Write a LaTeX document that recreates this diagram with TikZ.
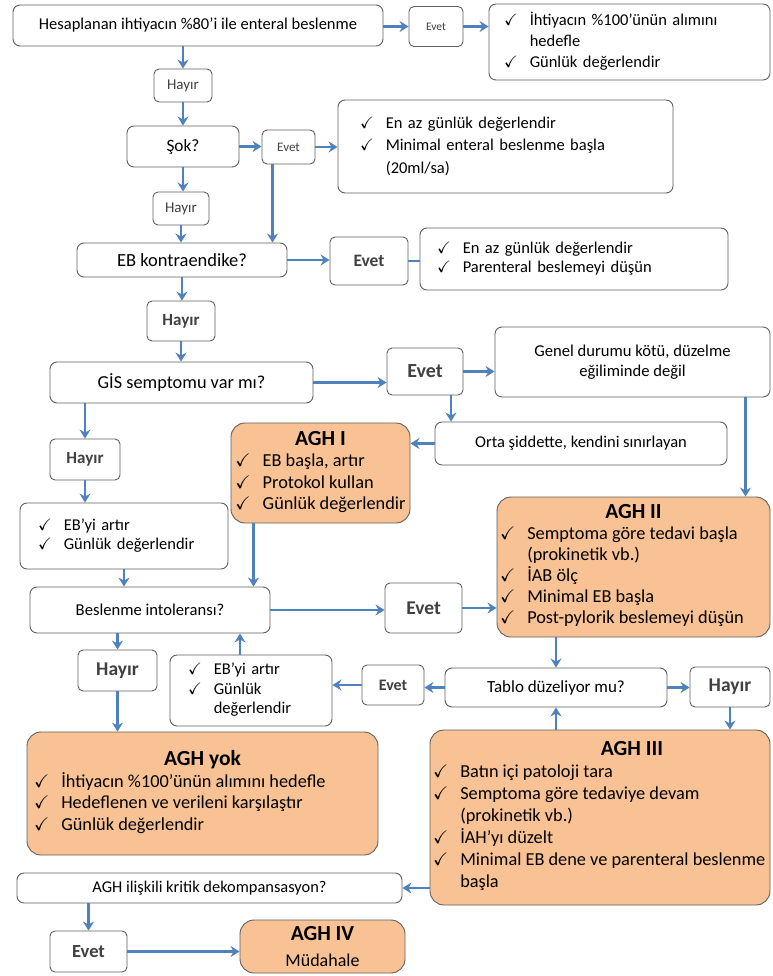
\documentclass[tikz,border=0pt]{standalone}
\usepackage{amssymb}
\usepackage{fontspec}
\setmainfont{Carlito}
\usetikzlibrary{arrows.meta, positioning}

\definecolor{aghorange}{RGB}{249,194,148}
\definecolor{flowblue}{RGB}{79,129,189}
\definecolor{boxgray}{RGB}{95,95,95}

\newcommand{\chk}{$\checkmark$}
\newcommand{\fsz}[2]{\fontsize{#1}{#2}\selectfont}
\newcommand{\chklist}[1]{\begin{tabular}{@{}l@{\hspace{12pt}}l@{}}#1\end{tabular}}
\newcommand{\aghlist}[3]{\begin{tabular}{@{}l@{\hspace{12pt}}l@{}}\multicolumn{2}{@{}c@{}}{\makebox[#1][c]{\fsz{21.5}{26}\bfseries #2}}\\#3\end{tabular}}

\tikzset{
  box/.style={draw=boxgray, line width=0.9pt, rounded corners=7pt, fill=white, inner sep=0pt, align=center},
  agh/.style={box, fill=aghorange, rounded corners=14pt},
  tag/.style={box, rounded corners=5pt, text=black!75},
  wh/.style 2 args={minimum width=#1pt, minimum height=#2pt},
  arr/.style={draw=flowblue, line width=2.2pt, -{Stealth[length=9pt,width=11pt,inset=3pt]}},
  ln/.style={draw=flowblue, line width=2.2pt}
}

\begin{document}
\begin{tikzpicture}[x=1pt, y=-1pt]
\useasboundingbox (0,0) rectangle (772,976);
% upper part
\node[box, wh={370}{41}, font=\fsz{16.5}{20}] (start) at (198,25.5) {Hesaplanan ihtiyacın \%80’i ile enteral beslenme};
\node[tag, wh={54}{40}, font=\fsz{11.5}{14}] (yes1) at (436,26.5) {Evet};
\node[box, wh={281}{76}, text width=251pt, inner xsep=15pt, align=left, font=\fsz{16.5}{21}] (target) at (629.5,42) {\chklist{\chk & İhtiyacın \%100’ünün alımını\\ & hedefle\\ \chk & Günlük değerlendir}};
\node[tag, wh={58}{33}, font=\fsz{15}{18}] (no1) at (183,85.5) {Hayır};
\node[box, wh={112}{41}, font=\fsz{17.3}{20}] (shock) at (183,146.5) {Şok?};
\node[tag, wh={53}{34}, font=\fsz{13}{16}] (yes2) at (288.5,147) {Evet};
\node[box, wh={335}{93}, text width=291pt, inner xsep=22pt, align=left, font=\fsz{16.5}{22.5}] (minimal) at (505.5,146.5) {\chklist{\chk & En az günlük değerlendir\\ \chk & Minimal enteral beslenme başla\\ & (20ml/sa)}};
\node[tag, wh={56}{33}, font=\fsz{15}{18}] (no2) at (181,208.5) {Hayır};
\node[box, wh={210}{34}, font=\fsz{18.5}{22}] (contra) at (182,260) {EB kontraendike?};
\node[tag, wh={78}{48}, font=\fsz{17.5}{20}\bfseries] (yes3) at (369,261) {Evet};
\node[box, wh={308}{62}, text width=274pt, inner xsep=17pt, align=left, font=\fsz{16.5}{19}] (parent) at (574,259) {\chklist{\chk & En az günlük değerlendir\\ \chk & Parenteral beslemeyi düşün}};
\node[tag, wh={68}{40}, font=\fsz{17}{20}\bfseries] (no3) at (181,321) {Hayır};
\node[box, wh={263}{41}, font=\fsz{18.3}{22}] (gis) at (181.5,382.5) {GİS semptomu var mı?};
\node[tag, wh={76}{47}, font=\fsz{20}{24}\bfseries] (yes4) at (425,371.5) {Evet};
\node[box, wh={275}{70}, font=\fsz{16.6}{20}] (severe) at (632.5,362) {Genel durumu kötü, düzelme\\eğiliminde değil};
\node[box, wh={292}{43}, font=\fsz{16.5}{20}] (mild) at (581,443.5) {Orta şiddette, kendini sınırlayan};
\node[agh, wh={179}{100}, font=\fsz{18.3}{21.5}] (agh1) at (320.5,473) {\aghlist{167pt}{AGH I}{\chk & EB başla, artır\\ \chk & Protokol kullan\\ \chk & Günlük değerlendir}};
\node[tag, wh={70}{41}, font=\fsz{17}{20}\bfseries] (no4) at (85,459.5) {Hayır};
\node[box, wh={208}{66}, text width=172pt, inner xsep=18pt, align=left, font=\fsz{16.5}{19}] (raise1) at (124,536) {\chklist{\chk & EB’yi artır\\ \chk & Günlük değerlendir}};
% middle part
\node[box, wh={240}{46}, font=\fsz{16.6}{20}] (intol) at (150,610) {Beslenme intoleransı?};
\node[tag, wh={77}{50}, font=\fsz{19.5}{22}\bfseries] (yes5) at (423.5,608) {Evet};
\node[agh, wh={273}{140}, font=\fsz{18.3}{21}] (agh2) at (633.5,567) {\aghlist{267pt}{AGH II}{\chk & Semptoma göre tedavi başla\\ & (prokinetik vb.)\\ \chk & İAB ölç\\ \chk & Minimal EB başla\\ \chk & Post-pylorik beslemeyi düşün}};
\node[box, wh={222}{39}, font=\fsz{17}{20}] (better) at (556,687.5) {Tablo düzeliyor mu?};
\node[tag, wh={80}{40}, font=\fsz{19.5}{22}\bfseries] (no5) at (730,687) {Hayır};
\node[tag, wh={62}{40}, font=\fsz{16}{19}\bfseries] (yes6) at (393,685) {Evet};
\node[box, wh={162}{71}, text width=126pt, inner xsep=18pt, align=left, font=\fsz{16.5}{19.5}] (raise2) at (251,690.5) {\chklist{\chk & EB’yi artır\\ \chk & Günlük\\ & değerlendir}};
\node[tag, wh={79}{41}, font=\fsz{19.5}{22}\bfseries] (no6) at (117.5,670.5) {Hayır};
% lower part
\node[agh, wh={351}{123}, font=\fsz{18.3}{21.5}] (aghno) at (202.5,793.5) {\aghlist{337pt}{AGH yok}{\chk & İhtiyacın \%100’ünün alımını hedefle\\ \chk & Hedeflenen ve verileni karşılaştır\\ \chk & Günlük değerlendir}};
\node[agh, wh={340}{175}, font=\fsz{18.3}{22}] (agh3) at (600,817.5) {\aghlist{334pt}{\hspace{64pt}AGH III}{\chk & Batın içi patoloji tara\\ \chk & Semptoma göre tedaviye devam\\ & (prokinetik vb.)\\ \chk & İAH’yı düzelt\\ \chk & Minimal EB dene ve parenteral beslenme\\ & başla}};
\node[box, wh={385}{30}, font=\fsz{16.4}{20}] (decomp) at (209.5,888) {AGH ilişkili kritik dekompansasyon?};
\node[tag, wh={77}{41}, font=\fsz{18.5}{22}\bfseries] (yes7) at (88.5,951.5) {Evet};
\node[agh, wh={165}{53}, font=\fsz{18}{26}] (agh4) at (322.5,946.5) {{\fsz{21.5}{26}\bfseries AGH IV}\\Müdahale};

% connectors
\draw[arr] (no1.north |- start.south) -- (no1.north);
\draw[arr] (no1.south) -- (no1.south |- shock.north);
\draw[arr] (yes1.west -| start.east) -- (yes1.west);
\draw[arr] (yes1.east) -- (yes1.east -| target.west);
\draw[arr] (shock.east) -- (shock.east -| yes2.west);
\draw[arr] (yes2.east) -- (yes2.east -| minimal.west);
\draw[arr] (shock.south) -- (shock.south |- no2.north);
\draw[arr] (no2.south) -- (no2.south |- contra.north);
\draw[arr] ([xshift=-16pt]yes2.south) -- ([xshift=-16pt]yes2.south |- contra.north);
\draw[arr] (contra.east) -- (contra.east -| yes3.west);
\draw[ln] (yes3.east) -- (yes3.east -| parent.west);
\draw[arr] (contra.south) -- (contra.south |- no3.north);
\draw[arr] (no3.south) -- (no3.south |- gis.north);
\draw[arr] (gis.east) -- (gis.east -| yes4.west);
\draw[arr] (yes4.east) -- (yes4.east -| severe.west);
\draw[arr] ([xshift=26pt]yes4.south) -- ([xshift=26pt]yes4.south |- mild.north);
\draw[arr] (mild.west) -- (mild.west -| agh1.east);
\draw[arr] ([xshift=113pt]severe.south) -- ([xshift=113pt]severe.south |- agh2.north);
\draw[arr] (no4.north |- gis.south) -- (no4.north);
\draw[arr] (no4.south) -- (no4.south |- raise1.north);
\draw[arr] (raise1.south) -- (raise1.south |- intol.north);
\draw[arr] ([xshift=-67pt]agh1.south) -- ([xshift=-67pt]agh1.south |- intol.north);
\draw[arr] (intol.east) -- (intol.east -| yes5.west);
\draw[arr] (yes5.east) -- (yes5.east -| agh2.west);
\draw[arr] (better.north |- agh2.south) -- (better.north);
\draw[arr] (better.east) -- (better.east -| no5.west);
\draw[arr] (no5.south) -- (no5.south |- agh3.north);
\draw[arr] (better.south |- agh3.north) -- (better.south);
\draw[arr] (better.west) -- (better.west -| yes6.east);
\draw[arr] (yes6.west) -- (yes6.west -| raise2.east);
\draw[arr] ([xshift=-11pt]raise2.north) -- ([xshift=-11pt]raise2.north |- intol.south);
\draw[arr] (no6.north |- intol.south) -- (no6.north);
\draw[arr] (no6.south) -- (no6.south |- aghno.north);
\draw[arr] (decomp.east -| agh3.west) -- (decomp.east);
\draw[arr] (yes7.north |- decomp.south) -- (yes7.north);
\draw[arr] (yes7.east) -- (yes7.east -| agh4.west);
\end{tikzpicture}
\end{document}
